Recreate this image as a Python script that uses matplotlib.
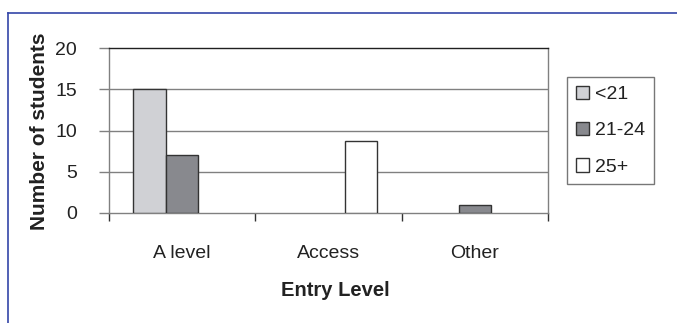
import numpy as np
import matplotlib
matplotlib.use("Agg")
import matplotlib.pyplot as plt
from matplotlib.lines import Line2D
from matplotlib.patches import Patch

plt.rcParams["font.family"] = ["Liberation Sans", "DejaVu Sans"]

# Students by entry route and age band
entry_levels = ["A level", "Access", "Other"]
age_bands = ["<21", "21-24", "25+"]
under_21 = [15, 0, 0]
age_21_24 = [7, 0, 0.9]
age_25_plus = [0, 8.7, 0]
y_ticks = [0, 5, 10, 15, 20]

W, H = 677, 323
fig = plt.figure(figsize=(W / 100, H / 100), dpi=100)
ax = fig.add_axes([109 / W, 1 - 212.7 / H, (548 - 109) / W, (212.7 - 48.3) / H])

colors = ["#d0d1d5", "#88898e", "#ffffff"]
edge = "#333333"
series = [under_21, age_21_24, age_25_plus]
x = np.arange(len(entry_levels))
width = 1 / 4.5
for i, (vals, col) in enumerate(zip(series, colors)):
    # empty bars get no outline
    lw = [1.0 if v > 0 else 0 for v in vals]
    ax.bar(x + (i - 1) * width, vals, width, color=col, edgecolor=edge,
           linewidth=lw, zorder=3)

ax.set_xlim(-0.5, 2.5)
ax.set_ylim(0, 20)
ax.set_yticks(y_ticks)
ax.set_yticklabels([str(t) for t in y_ticks])

# gridlines
for t in y_ticks[1:-1]:
    ax.axhline(t, color="#808080", linewidth=1.0, zorder=1)

for side in ["left", "right", "bottom"]:
    ax.spines[side].set_color("#808080")
    ax.spines[side].set_linewidth(1.0)
ax.spines["top"].set_color("#202020")
ax.spines["top"].set_linewidth(1.0)

ax.tick_params(axis="y", direction="out", length=7, width=1.0, color="#808080",
               pad=16, labelsize=14, labelcolor="#222222")
ax.set_xticks(x)
ax.set_xticklabels(entry_levels)
ax.tick_params(axis="x", which="major", length=0, pad=23, labelsize=14,
               labelcolor="#222222")
ax.set_xticks([-0.5, 0.5, 1.5, 2.5], minor=True)
ax.tick_params(axis="x", which="minor", direction="out", length=6, width=1.0,
               color="#333333")

fig.text(40 / W, 1 - 131 / H, "Number of students", rotation=90, ha="center",
         va="center", fontsize=15, fontweight="bold", color="#222222")
fig.text(335 / W, 1 - 290 / H, "Entry Level", ha="center", va="center",
         fontsize=14.5, fontweight="bold", color="#222222")

handles = [Patch(facecolor=c, edgecolor=edge, linewidth=1.0) for c in colors]
leg = fig.legend(handles, age_bands, loc="upper left",
                 bbox_to_anchor=(567 / W, 1 - 77 / H),
                 fontsize=14, frameon=True, fancybox=False, shadow=False,
                 handlelength=0.7, handleheight=0.7, handletextpad=0.3,
                 labelspacing=0.95, borderpad=0.45, borderaxespad=0)
leg.get_frame().set_edgecolor("#555555")
leg.get_frame().set_linewidth(1.0)
for txt in leg.get_texts():
    txt.set_color("#222222")

# outer frame (left and top edges)
fig.add_artist(Line2D([8 / W, 8 / W], [0, 1 - 13 / H], color="#3346a8", linewidth=1.2))
fig.add_artist(Line2D([8 / W, 1], [1 - 13 / H, 1 - 13 / H], color="#3346a8", linewidth=1.2))

fig.savefig("out.png", dpi=100)
